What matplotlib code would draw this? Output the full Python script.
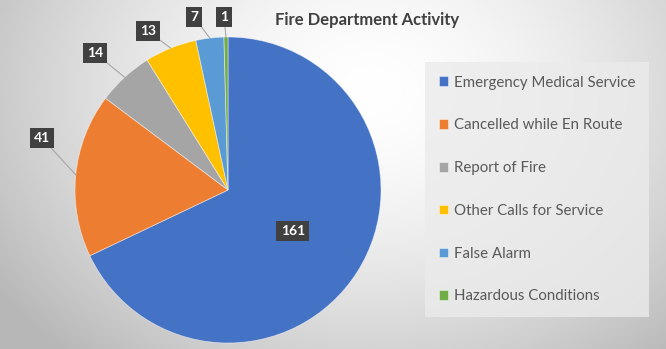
import numpy as np
import matplotlib
matplotlib.use("Agg")
import matplotlib.pyplot as plt

plt.rcParams['font.family'] = ['Lato', 'DejaVu Sans']

# data
categories = ["Emergency Medical Service", "Cancelled while En Route", "Report of Fire",
              "Other Calls for Service", "False Alarm", "Hazardous Conditions"]
counts = [161, 41, 14, 13, 7, 1]
colors = ["#4472C4", "#ED7D31", "#A5A5A5", "#FFC000", "#5B9BD5", "#70AD47"]

# layout (pixel coords, y from top)
W, H = 666, 349
cx, cy, R = 228, 190, 153
label_pos = [None, (42, 138), (95, 53), (148, 31), (194, 17), (224, 17)]

fig = plt.figure(figsize=(W / 100, H / 100), dpi=100)

# radial gradient background
bg = fig.add_axes([0, 0, 1, 1])
yy, xx = np.mgrid[0:H, 0:W]
d = np.sqrt(((xx - 370) / 420.0) ** 2 + ((yy - 90) / 330.0) ** 2)
shade = 1.0 - 0.25 * np.clip(d, 0, 1.3) ** 1.6
shade = np.clip(shade, 0.72, 1.0)
bg.imshow(np.dstack([shade] * 3), extent=[0, W, H, 0], aspect='auto')
bg.axis('off')

ax = fig.add_axes([0, 0, 1, 1])
ax.patch.set_alpha(0)
wedges, _ = ax.pie(counts, colors=colors, startangle=90, counterclock=False,
                   center=(cx, H - cy), radius=R,
                   wedgeprops=dict(linewidth=0.6, edgecolor=(1, 1, 1, 0.5)))
ax.set_xlim(0, W)
ax.set_ylim(0, H)
ax.set_aspect('equal')
ax.axis('off')

box = dict(boxstyle='square,pad=0.3', fc='#404040', ec='none')
total = float(sum(counts))
start = 90.0
for i, (w, v) in enumerate(zip(wedges, counts)):
    span = v / total * 360.0
    mid = np.deg2rad(start - span / 2)
    start -= span
    if label_pos[i] is None:
        px, py = cx + 0.5 * R * np.cos(mid), H - cy + 0.5 * R * np.sin(mid)
        ax.text(px, py, str(v), color='white', fontsize=10, fontweight='bold',
                ha='center', va='center', bbox=box)
    else:
        ex, ey = cx + R * np.cos(mid), H - cy + R * np.sin(mid)
        lx, ly = label_pos[i]
        ax.annotate(str(v), xy=(ex, ey), xytext=(lx, H - ly),
                    color='white', fontsize=10, fontweight='bold',
                    ha='center', va='center', bbox=box,
                    arrowprops=dict(arrowstyle='-', color='#a6a6a6', lw=0.8,
                                    shrinkA=0, shrinkB=0))

ax.text(367, H - 20, "Fire Department Activity", fontsize=12, fontweight='bold',
        color='#404040', ha='center', va='center')

leg = ax.legend(wedges, categories, loc='upper left',
                bbox_to_anchor=(425, H - 62), bbox_transform=ax.transData,
                frameon=True, fancybox=False, fontsize=10.8,
                handlelength=0.62, handleheight=0.62, handletextpad=0.4,
                labelspacing=1.92, borderpad=0.9, borderaxespad=0)
leg.get_frame().set_facecolor('#ebebeb')
leg.get_frame().set_edgecolor('none')
leg.get_frame().set_alpha(0.8)
for t in leg.get_texts():
    t.set_color('#595959')

fig.savefig('out.png', dpi=100)
